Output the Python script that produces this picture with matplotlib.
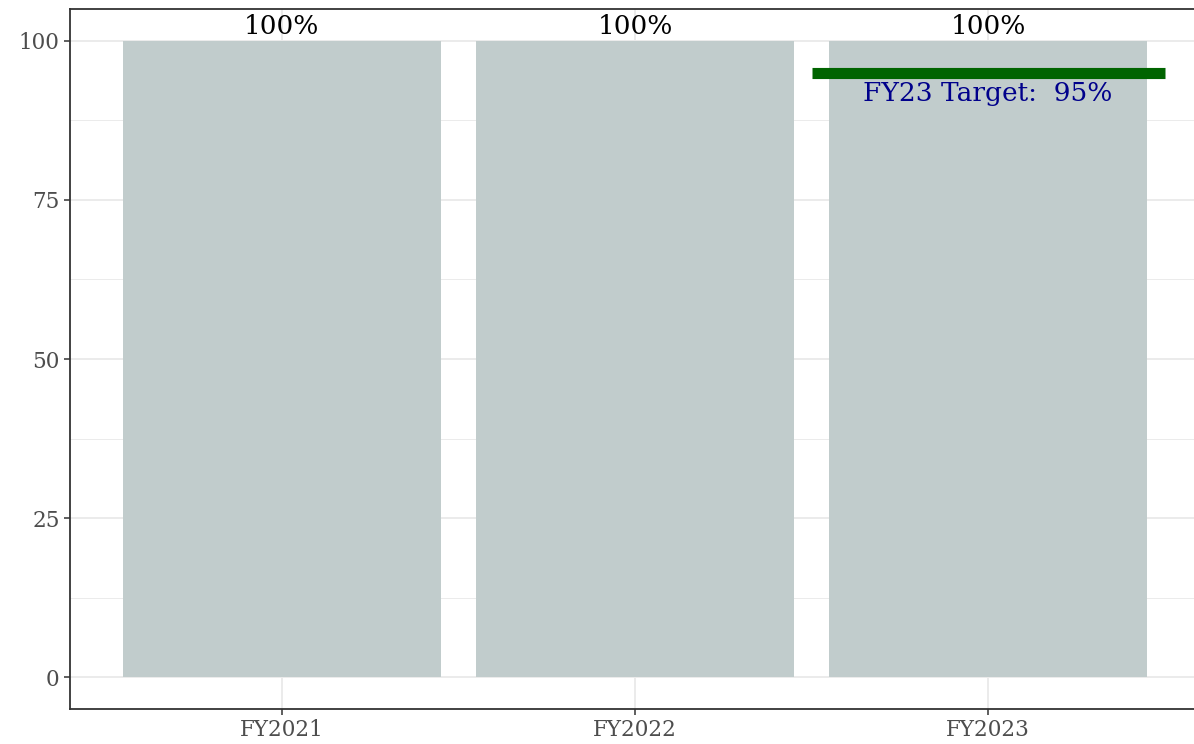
import matplotlib.pyplot as plt
from matplotlib.ticker import MultipleLocator

# Daten
years = ["FY2021", "FY2022", "FY2023"]
values = [100, 100, 100]
bar_labels = ["100%", "100%", "100%"]
y_ticks = [0, 25, 50, 75, 100]
target_value = 95
target_label = "FY23 Target:  95%"

plt.rcParams['font.family'] = ['DejaVu Serif']

fig = plt.figure(figsize=(11.94, 7.44), dpi=100)
# Panel reicht rechts etwas über den Bildrand hinaus (wie im Original)
ax = fig.add_axes([70 / 1194, 35 / 744, 1130 / 1194, 700 / 744])

x = list(range(1, len(years) + 1))
ax.bar(x, values, width=0.9, color='#C1CCCC', zorder=2)

# Beschriftungen über den Balken
for xi, v, lab in zip(x, values, bar_labels):
    ax.text(xi, v + 0.3, lab, ha='center', va='bottom', fontsize=19, color='black', zorder=4)

# Ziellinie FY23
ax.plot([2.5, 3.5], [target_value, target_value], color='#006400', linewidth=8,
        solid_capstyle='butt', zorder=3)
ax.text(3, target_value - 3.2, target_label, ha='center', va='center', fontsize=19,
        color='#00008B', zorder=4)

ax.set_xlim(0.4, 3.6)
ax.set_ylim(-5, 105)
ax.set_xticks(x)
ax.set_xticklabels(years)
ax.set_yticks(y_ticks)
ax.set_yticklabels([str(t) for t in y_ticks])
ax.yaxis.set_minor_locator(MultipleLocator(12.5))

ax.grid(which='major', color='#EBEBEB', linewidth=1.4, zorder=0)
ax.grid(which='minor', axis='y', color='#EBEBEB', linewidth=0.7, zorder=0)
ax.set_axisbelow(True)
ax.tick_params(axis='both', which='major', length=4, width=1.1, color='#333333',
               labelcolor='#4D4D4D', labelsize=15.5)
ax.tick_params(axis='y', which='minor', length=0)
for s in ax.spines.values():
    s.set_color('#333333')
    s.set_linewidth(1.3)

fig.savefig('out.png', dpi=100)
